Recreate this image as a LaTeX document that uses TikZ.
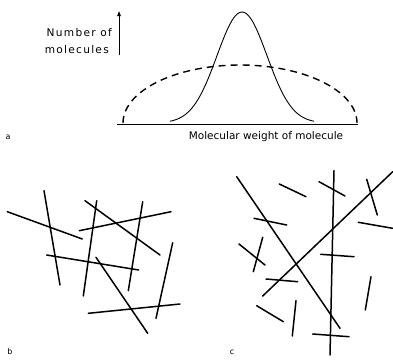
\documentclass[tikz,border=0pt]{standalone}
\usepackage{fontspec}
\newfontfamily\lblA[LetterSpace=12]{DejaVu Sans}
\newfontfamily\lblB{DejaVu Sans}
\newfontfamily\lblC{DejaVu Sans}
\usetikzlibrary{arrows.meta}
\tikzset{
  rod/.style={line width=1.5pt, line cap=round},
  axis/.style={line width=0.9pt},
  lbl/.style={inner sep=0pt, font=\lblA\fontsize{10.6}{12}\selectfont},
  panel/.style={inner sep=0pt, font=\lblC\fontsize{8}{9}\selectfont}
}
\begin{document}
\begin{tikzpicture}[x=1pt,y=-1pt]
\useasboundingbox (0,0) rectangle (393,359);
% part a
\node[lbl, anchor=east] (t1) at (112,33) {Number of};
\node[lbl, anchor=east] (t2) at (109,50) {molecules};
\coordinate (arB) at (119,55);
\coordinate (arT) at (119,11);
\draw[axis, -{Triangle[length=5pt,width=3.5pt]}] (arB) -- (arT);
\coordinate (bl) at (117,124);
\coordinate (br) at (358,124);
\draw[axis] (bl) -- (br);
\node[inner sep=0pt, font=\lblB\fontsize{10.5}{12}\selectfont] (xl) at (266,137) {Molecular weight of molecule};
\node[panel] (la) at (8,137) {a};
\draw[line width=0.9pt, smooth, samples=80, domain=170:314] plot (\x,{123-111*exp(-((\x-242)/25)^2/2)});
\draw[line width=1.4pt, dash pattern=on 7pt off 5pt, smooth, samples=60, domain=180:0] plot ({240+117*cos(\x)},{123-58*sin(\x)});
% part b
\node[panel] (lb) at (10,352) {b};
\draw[rod] (7.3,211.7) -- (82.3,239);
\draw[rod] (44,190.7) -- (60,285);
\draw[rod] (85,200.7) -- (160,255);
\draw[rod] (96.7,200.7) -- (83.3,296);
\draw[rod] (79.3,230.7) -- (171,211.7);
\draw[rod] (142.7,201.7) -- (128.3,290.7);
\draw[rod] (46.7,255) -- (138.7,270);
\draw[rod] (96,257.3) -- (147.7,333.3);
\draw[rod] (172.7,242.7) -- (156,318.3);
\draw[rod] (88.3,313.3) -- (180,304);
% part c
\node[panel] (lc) at (232,352) {c};
\draw[rod] (236.7,176.7) -- (340,328.3);
\draw[rod] (334,170.7) -- (330,355);
\draw[rod] (392.7,171.7) -- (262.7,296);
\draw[rod] (279.3,184) -- (306,196.7);
\draw[rod] (319,181.7) -- (345,196);
\draw[rod] (366.7,179.3) -- (377.3,215);
\draw[rod] (254,218.3) -- (286.7,225);
\draw[rod] (358.3,222.3) -- (392.7,228.3);
\draw[rod] (239,244) -- (265,265);
\draw[rod] (262.7,237.3) -- (253.3,271.7);
\draw[rod] (320.7,254.3) -- (354,256.7);
\draw[rod] (266,279) -- (297.7,281.7);
\draw[rod] (256.7,305.7) -- (283.3,321.7);
\draw[rod] (296,300.7) -- (292.3,336);
\draw[rod] (371,276.7) -- (365.3,310);
\draw[rod] (312.7,334) -- (349,336.7);
\end{tikzpicture}
\end{document}
